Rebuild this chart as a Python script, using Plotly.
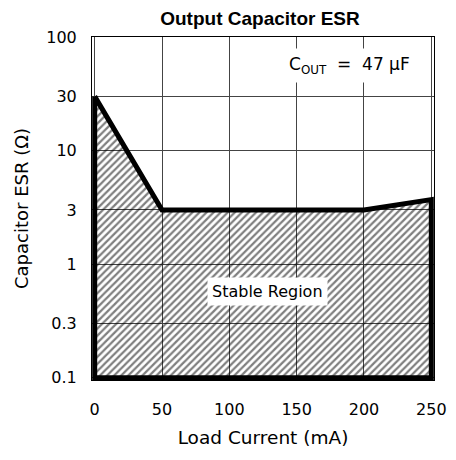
import math
import plotly.graph_objects as go

# Stable-region boundary (Load current mA, ESR ohm)
load_ma = [0, 50, 200, 250, 250, 0, 0]
esr_ohm = [30, 3, 3, 3.7, 0.1, 0.1, 30]

x_ticks = [0, 50, 100, 150, 200, 250]
y_ticks = [0.1, 0.3, 1, 3, 10, 30, 100]
y_tick_text = ["0.1", "0.3", "1", "3", "10", "30", "100"]

stable_label_pos = (128, 0.57)
cout_label_pos = (189, 55.6)

FONT = "DejaVu Sans"
W, H = 448, 452  # page body has an 8px margin

fig = go.Figure()
fig.add_trace(go.Scatter(
    x=load_ma, y=esr_ohm, mode="lines",
    line=dict(color="black", width=5),
    fill="toself", fillcolor="rgba(0,0,0,0)",
    fillpattern=dict(shape="/", size=5, solidity=0.45,
                     fgcolor="black", bgcolor="rgba(0,0,0,0)"),
    hoverinfo="skip", showlegend=False,
))

fig.add_annotation(x=stable_label_pos[0], y=math.log10(stable_label_pos[1]),
                   text="Stable Region", showarrow=False,
                   font=dict(family=FONT, size=16, color="black"),
                   bgcolor="white", borderpad=4)
fig.add_annotation(x=cout_label_pos[0], y=math.log10(cout_label_pos[1]),
                   text="C<sub>OUT</sub>&nbsp; = &nbsp;47 μF", showarrow=False,
                   font=dict(family=FONT, size=17, color="black"),
                   bgcolor="white", borderpad=5)

fig.update_layout(
    width=W, height=H,
    margin=dict(l=84, r=22, t=29, b=80, autoexpand=False),
    paper_bgcolor="white", plot_bgcolor="white",
    title=dict(text="<b>Output Capacitor ESR</b>", x=252 / W, xanchor="center",
               y=1 - 10 / H, yanchor="middle", automargin=False,
               font=dict(family="Liberation Sans", size=19, color="black")),
    xaxis=dict(range=[-2, 252], tickvals=x_ticks, showgrid=True, automargin=False,
               gridcolor="#444", gridwidth=1, zeroline=False,
               showline=True, linecolor="black", linewidth=1, mirror=True,
               ticks="", ticklabelstandoff=15,
               tickfont=dict(family=FONT, size=16, color="black"),
               title=dict(text="Load Current (mA)", standoff=12,
                          font=dict(family=FONT, size=18.5, color="black"))),
    yaxis=dict(type="log", range=[-1.02, 2], tickvals=y_ticks, ticktext=y_tick_text,
               showgrid=True, gridcolor="#444", gridwidth=1, zeroline=False,
               automargin=False,
               showline=True, linecolor="black", linewidth=1, mirror=True,
               ticks="", ticklabelstandoff=11,
               tickfont=dict(family=FONT, size=16, color="black"),
               title=dict(text="Capacitor ESR (Ω)", standoff=12,
                          font=dict(family=FONT, size=18, color="black"))),
)

fig.write_html("out.html")
